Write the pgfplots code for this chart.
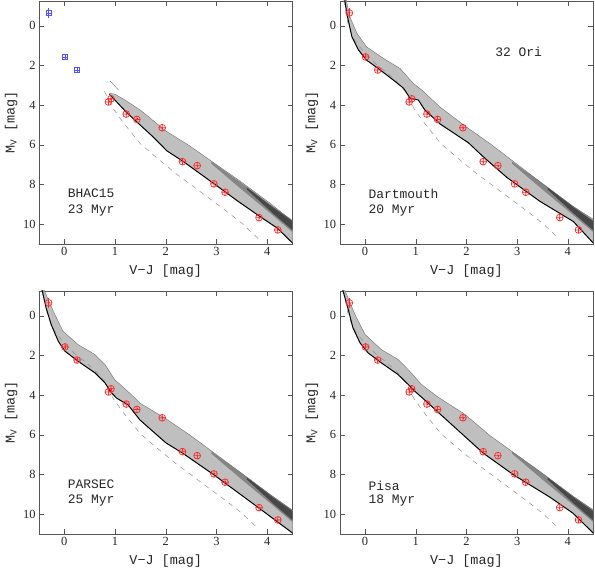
\documentclass[border=0pt]{standalone}
\usepackage{fontspec}
\setmainfont{Liberation Serif}
\setmonofont{Liberation Mono}
\usepackage{pgfplots}
\usepackage{pgfplotstable}
\pgfplotsset{compat=1.18}
\usepgfplotslibrary{fillbetween}
\definecolor{obsred}{RGB}{255,40,40}
\definecolor{obsblue}{RGB}{80,80,255}
\definecolor{frame}{RGB}{85,85,85}

% observed stars (V-J, M_V, error)
\pgfplotstableread{
x y e
-0.31 -0.65 0.25
0.01 1.57 0.10
0.25 2.23 0.10
}\obsbright
\pgfplotstableread{
x y e
0.87 3.84 0.05
0.92 3.68 0.05
1.22 4.45 0.05
1.43 4.72 0.05
1.93 5.14 0.05
2.33 6.85 0.05
2.62 7.05 0.05
2.95 7.97 0.05
3.17 8.39 0.05
3.84 9.67 0.05
4.21 10.29 0.05
}\obsfaint

% ZAMS (dashed)
\pgfplotstableread{
x y
-0.42 -1.3
-0.33 0.0
-0.20 0.75
0.00 1.40
0.20 1.90
0.40 2.30
0.60 2.75
0.79 3.30
0.97 4.20
1.20 5.00
1.50 5.95
1.82 6.65
2.20 7.45
2.70 8.40
3.20 9.35
3.50 9.95
3.82 10.72
}\zams
\pgfplotstableread{
x y
0.79 3.30
0.97 4.20
1.20 5.00
1.50 5.95
1.82 6.65
2.20 7.45
2.70 8.40
3.20 9.35
3.50 9.95
3.82 10.72
}\zamsshort

% dense strips of the binary sequence at the red end
\pgfplotstableread{
x y
2.90 6.85
3.45 7.85
4.11 9.10
4.50 9.80
}\stripup
\pgfplotstableread{
x y
2.90 6.95
3.45 8.15
4.11 9.55
4.50 10.40
}\stripdown
\pgfplotstableread{
x y
3.60 8.15
4.11 9.15
4.50 9.85
}\coreup
\pgfplotstableread{
x y
3.60 8.25
4.11 9.45
4.50 10.30
}\coredown

% BHAC15
\pgfplotstableread{
x y
0.89 3.46
1.00 3.75
1.22 4.35
1.46 4.92
1.75 5.60
2.02 6.30
2.35 6.85
2.94 7.94
3.40 8.80
3.86 9.62
4.20 10.20
4.50 10.95
}\isoA
\pgfplotstableread{
x y
0.89 3.40
1.00 3.45
1.20 3.75
1.50 4.25
2.00 5.30
2.47 6.05
3.00 7.00
3.45 7.80
4.06 8.95
4.50 9.85
}\topA

% Dartmouth
\pgfplotstableread{
x y
-0.40 -1.30
-0.36 -0.62
-0.26 0.55
-0.13 1.22
0.03 1.73
0.30 2.23
0.56 2.74
0.76 3.15
0.89 3.66
1.05 3.74
1.18 4.25
1.48 4.95
2.04 5.90
2.33 6.60
2.62 7.25
2.80 7.65
3.45 8.85
4.11 9.87
4.50 10.95
}\isoB
\pgfplotstableread{
x y
-0.37 -1.30
-0.30 -0.45
-0.16 0.38
0.03 1.06
0.36 1.64
0.69 2.15
0.95 2.90
1.12 3.24
1.48 4.10
2.00 5.10
2.47 5.95
3.45 7.86
4.11 9.12
4.50 9.75
}\topB

% PARSEC
\pgfplotstableread{
x y
-0.44 -1.30
-0.36 -0.40
-0.26 0.44
-0.12 1.28
0.01 1.78
0.27 2.29
0.60 2.87
0.80 3.38
0.93 3.88
1.03 4.15
1.26 4.50
1.49 5.25
2.00 6.40
2.33 6.92
2.94 8.00
3.79 9.60
4.50 10.95
}\isoC
\pgfplotstableread{
x y
-0.40 -1.30
-0.22 -0.24
-0.03 0.77
0.27 1.45
0.60 1.95
0.80 2.45
0.99 3.21
1.32 3.97
1.49 4.40
1.98 5.15
2.47 6.00
3.45 7.85
4.11 9.10
4.50 9.80
}\topC

% Pisa
\pgfplotstableread{
x y
-0.44 -1.30
-0.34 -0.40
-0.24 0.60
-0.10 1.36
0.06 1.87
0.32 2.37
0.65 2.96
0.85 3.46
0.98 3.80
1.24 4.39
1.50 5.00
2.33 6.92
2.93 8.02
3.65 9.15
4.10 9.95
4.50 10.95
}\isoD
\pgfplotstableread{
x y
-0.40 -1.30
-0.20 -0.07
0.00 0.94
0.32 1.70
0.65 2.20
0.91 2.87
1.11 3.46
1.44 4.10
1.96 4.95
2.47 6.05
3.45 7.85
4.11 9.11
4.50 9.78
}\topD

\pgfplotsset{
  cmd/.style={
    scale only axis, width=253.5bp, height=243bp,
    xmin=-0.5, xmax=4.5, ymin=-1.25, ymax=11, y dir=reverse,
    xtick={0,1,2,3,4}, ytick={0,2,4,6,8,10},
    tick align=inside, xtick pos=both, ytick pos=both,
    major tick length=5bp,
    axis line style={frame}, tick style={frame, line width=0.5pt},
    tick label style={font=\fontsize{12.5}{14}\selectfont, text=black!85},
    /pgf/number format/assume math mode=true,
    xlabel={V−J [mag]}, ylabel={M\textsubscript{V} [mag]},
    every axis x label/.style={at={(axis description cs:0.5,-0.11)},anchor=center,
      font=\ttfamily\fontsize{13.5}{15}\selectfont, text=black!85},
    every axis y label/.style={at={(axis description cs:-0.11,0.5)},anchor=center,rotate=90,
      font=\ttfamily\fontsize{13.5}{15}\selectfont, text=black!85},
  },
  zamsline/.style={black!45, dash pattern=on 5bp off 5bp, line width=0.5pt},
  iso/.style={black, line width=1pt},
  edge/.style={black!60, line width=0.35pt},
  band/.style={fill=black!25, draw=none},
  dense/.style={fill=black!48, draw=none},
  core/.style={fill=black!72, draw=none},
  redobs/.style={only marks, mark=oplus, mark size=3.4bp, color=obsred, mark options={line width=0.7pt},
    error bars/.cd, y dir=both, y explicit, error mark=none, error bar style={obsred, line width=0.7pt}},
}
\tikzset{ann/.style={anchor=west, font=\ttfamily\fontsize{13}{15}\selectfont, text=black!85}}

\begin{document}
\begin{tikzpicture}

% ---- BHAC15
\begin{axis}[cmd, at={(165.75bp,449.5bp)}, anchor=center]
\addplot[zamsline] table {\zamsshort};
\addplot[name path=top, draw=none] table {\topA};
\addplot[name path=bot, draw=none] table {\isoA};
\addplot[name path=su, draw=none] table {\stripup};
\addplot[name path=sd, draw=none] table {\stripdown};
\addplot[name path=cu, draw=none] table {\coreup};
\addplot[name path=cd, draw=none] table {\coredown};
\addplot[band] fill between[of=top and bot];
\addplot[dense] fill between[of=su and sd];
\addplot[core] fill between[of=cu and cd];
\addplot[edge] table {\topA};
\addplot[edge] coordinates {(0.90,2.77) (1.07,3.24)};
\addplot[iso] table {\isoA};
\addplot[only marks, mark=square, mark size=2.6bp, color=obsblue, mark options={line width=0.6pt},
  error bars/.cd, y dir=both, y explicit, error mark=none, error bar style={obsblue, line width=0.6pt}]
  table[x=x, y=y, y error=e] {\obsbright};
\addplot[only marks, mark=+, mark size=2.6bp, color=obsblue, mark options={line width=0.6pt}]
  table[x=x, y=y] {\obsbright};
\addplot[redobs] table[x=x, y=y, y error=e] {\obsfaint};
\node[ann] at (axis cs:0,8.45) {BHAC15};
\node[ann] at (axis cs:0,9.3) {23 Myr};
\end{axis}

% ---- Dartmouth
\begin{axis}[cmd, at={(466.45bp,449.5bp)}, anchor=center]
\addplot[zamsline] table {\zams};
\addplot[name path=top, draw=none] table {\topB};
\addplot[name path=bot, draw=none] table {\isoB};
\addplot[name path=su, draw=none] table {\stripup};
\addplot[name path=sd, draw=none] table {\stripdown};
\addplot[name path=cu, draw=none] table {\coreup};
\addplot[name path=cd, draw=none] table {\coredown};
\addplot[band] fill between[of=top and bot];
\addplot[dense] fill between[of=su and sd];
\addplot[core] fill between[of=cu and cd];
\addplot[edge] table {\topB};
\addplot[iso] table {\isoB};
\addplot[redobs] table[x=x, y=y, y error=e] {\obsbright};
\addplot[redobs] table[x=x, y=y, y error=e] {\obsfaint};
\node[ann] at (axis cs:2.5,1.33) {32 Ori};
\node[ann] at (axis cs:0,8.45) {Dartmouth};
\node[ann] at (axis cs:0,9.3) {20 Myr};
\end{axis}

% ---- PARSEC
\begin{axis}[cmd, at={(165.75bp,159.5bp)}, anchor=center]
\addplot[zamsline] table {\zams};
\addplot[name path=top, draw=none] table {\topC};
\addplot[name path=bot, draw=none] table {\isoC};
\addplot[name path=su, draw=none] table {\stripup};
\addplot[name path=sd, draw=none] table {\stripdown};
\addplot[name path=cu, draw=none] table {\coreup};
\addplot[name path=cd, draw=none] table {\coredown};
\addplot[band] fill between[of=top and bot];
\addplot[dense] fill between[of=su and sd];
\addplot[core] fill between[of=cu and cd];
\addplot[edge] table {\topC};
\addplot[iso] table {\isoC};
\addplot[redobs] table[x=x, y=y, y error=e] {\obsbright};
\addplot[redobs] table[x=x, y=y, y error=e] {\obsfaint};
\node[ann] at (axis cs:0,8.5) {PARSEC};
\node[ann] at (axis cs:0,9.3) {25 Myr};
\end{axis}

% ---- Pisa
\begin{axis}[cmd, at={(466.45bp,159.5bp)}, anchor=center]
\addplot[zamsline] table {\zams};
\addplot[name path=top, draw=none] table {\topD};
\addplot[name path=bot, draw=none] table {\isoD};
\addplot[name path=su, draw=none] table {\stripup};
\addplot[name path=sd, draw=none] table {\stripdown};
\addplot[name path=cu, draw=none] table {\coreup};
\addplot[name path=cd, draw=none] table {\coredown};
\addplot[band] fill between[of=top and bot];
\addplot[dense] fill between[of=su and sd];
\addplot[core] fill between[of=cu and cd];
\addplot[edge] table {\topD};
\addplot[iso] table {\isoD};
\addplot[redobs] table[x=x, y=y, y error=e] {\obsbright};
\addplot[redobs] table[x=x, y=y, y error=e] {\obsfaint};
\node[ann] at (axis cs:0,8.55) {Pisa};
\node[ann] at (axis cs:0,9.3) {18 Myr};
\end{axis}

\pgfresetboundingbox
\useasboundingbox (0,0) rectangle (595bp,572bp);
\end{tikzpicture}
\end{document}
